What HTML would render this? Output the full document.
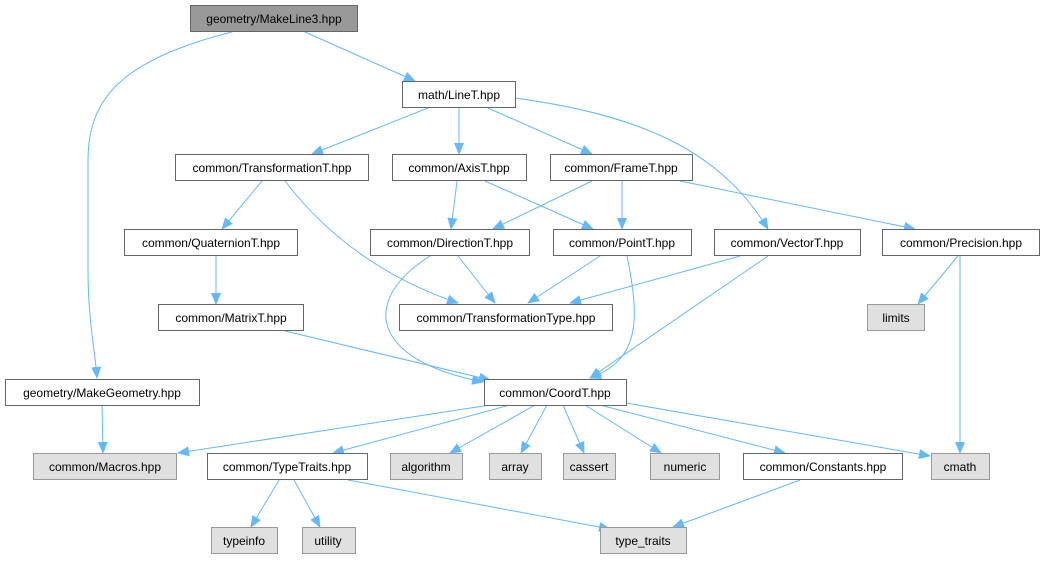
<!DOCTYPE html>
<html><head><meta charset="utf-8"><style>
body{margin:0;background:#fff}
text{font-family:"Liberation Sans",sans-serif;font-size:12px;fill:#000;text-anchor:middle}
.w{fill:#fff;stroke:#666}
.g{fill:#e0e0e0;stroke:#999}
.e{fill:none;stroke:#63b8ff;stroke-width:1}
</style></head><body>
<svg width="1043" height="560" xmlns="http://www.w3.org/2000/svg">
<defs><marker id="a" markerWidth="12" markerHeight="10" refX="11" refY="5" orient="auto" markerUnits="userSpaceOnUse"><path d="M0,0 L12,5 L0,10 z" fill="#63b8ff"/></marker></defs>
<g class="e" marker-end="url(#a)">
<path d="M232,32 C120,60 88,100 88,160 L88,270 C88,320 95,350 97,378" marker-end="url(#a)"/>
<path d="M305,32 L415,81" marker-end="url(#a)"/>
<path d="M428,108 L312,154" marker-end="url(#a)"/>
<path d="M459,108 L459,154" marker-end="url(#a)"/>
<path d="M488,108 L592,154" marker-end="url(#a)"/>
<path d="M515,98 C640,115 720,150 768,229" marker-end="url(#a)"/>
<path d="M262,181 L222,229" marker-end="url(#a)"/>
<path d="M285,181 C330,240 390,280 458,303" marker-end="url(#a)"/>
<path d="M457,181 L451,229" marker-end="url(#a)"/>
<path d="M485,181 L593,229" marker-end="url(#a)"/>
<path d="M592,181 L493,229" marker-end="url(#a)"/>
<path d="M622,181 L622,229" marker-end="url(#a)"/>
<path d="M680,181 L915,229" marker-end="url(#a)"/>
<path d="M216,256 L216,304" marker-end="url(#a)"/>
<path d="M458,256 L495,303" marker-end="url(#a)"/>
<path d="M430,256 C360,300 370,360 483,382" marker-end="url(#a)"/>
<path d="M600,256 L528,303" marker-end="url(#a)"/>
<path d="M627,256 C640,320 640,360 590,378" marker-end="url(#a)"/>
<path d="M740,256 L570,303" marker-end="url(#a)"/>
<path d="M768,256 L590,378" marker-end="url(#a)"/>
<path d="M958,256 L918,304" marker-end="url(#a)"/>
<path d="M960,256 L960,453" marker-end="url(#a)"/>
<path d="M285,331 L490,380" marker-end="url(#a)"/>
<path d="M102,405 L103,453" marker-end="url(#a)"/>
<path d="M490,405 L178,453" marker-end="url(#a)"/>
<path d="M510,405 L333,453" marker-end="url(#a)"/>
<path d="M535,405 L450,453" marker-end="url(#a)"/>
<path d="M547,405 L521,453" marker-end="url(#a)"/>
<path d="M563,405 L584,453" marker-end="url(#a)"/>
<path d="M585,405 L661,453" marker-end="url(#a)"/>
<path d="M600,405 L785,453" marker-end="url(#a)"/>
<path d="M626,403 L930,456" marker-end="url(#a)"/>
<path d="M279,480 L251,527" marker-end="url(#a)"/>
<path d="M294,480 L320,527" marker-end="url(#a)"/>
<path d="M348,480 L610,529" marker-end="url(#a)"/>
<path d="M800,480 L673,527" marker-end="url(#a)"/>
</g>
<rect x="190.5" y="5.5" width="167" height="26" fill="#999" stroke="#666"/><text x="274" y="23">geometry/MakeLine3.hpp</text>
<rect class="w" x="402.5" y="81.5" width="113" height="26"/><text x="459" y="99">math/LineT.hpp</text>
<rect class="w" x="175.5" y="154.5" width="193" height="26"/><text x="272" y="172">common/TransformationT.hpp</text>
<rect class="w" x="392.5" y="154.5" width="134" height="26"/><text x="459" y="172">common/AxisT.hpp</text>
<rect class="w" x="550.5" y="154.5" width="142" height="26"/><text x="621" y="172">common/FrameT.hpp</text>
<rect class="w" x="124.5" y="229.5" width="173" height="26"/><text x="211" y="247">common/QuaternionT.hpp</text>
<rect class="w" x="370.5" y="229.5" width="159" height="26"/><text x="450" y="247">common/DirectionT.hpp</text>
<rect class="w" x="553.5" y="229.5" width="138" height="26"/><text x="622" y="247">common/PointT.hpp</text>
<rect class="w" x="714.5" y="229.5" width="146" height="26"/><text x="787" y="247">common/VectorT.hpp</text>
<rect class="w" x="882.5" y="229.5" width="157" height="26"/><text x="961" y="247">common/Precision.hpp</text>
<rect class="w" x="158.5" y="304.5" width="145" height="26"/><text x="231" y="322">common/MatrixT.hpp</text>
<rect class="w" x="399.5" y="304.5" width="213" height="26"/><text x="506" y="322">common/TransformationType.hpp</text>
<rect class="g" x="867.5" y="304.5" width="57" height="26"/><text x="896" y="322">limits</text>
<rect class="w" x="5.5" y="379.5" width="194" height="26"/><text x="102" y="397">geometry/MakeGeometry.hpp</text>
<rect class="w" x="484.5" y="379.5" width="142" height="26"/><text x="555" y="397">common/CoordT.hpp</text>
<rect class="g" x="33.5" y="453.5" width="143" height="26"/><text x="105" y="471">common/Macros.hpp</text>
<rect class="w" x="207.5" y="453.5" width="160" height="26"/><text x="287" y="471">common/TypeTraits.hpp</text>
<rect class="g" x="390.5" y="453.5" width="72" height="26"/><text x="426" y="471">algorithm</text>
<rect class="g" x="489.5" y="453.5" width="52" height="26"/><text x="515" y="471">array</text>
<rect class="g" x="563.5" y="453.5" width="52" height="26"/><text x="589" y="471">cassert</text>
<rect class="g" x="650.5" y="453.5" width="69" height="26"/><text x="685" y="471">numeric</text>
<rect class="w" x="743.5" y="453.5" width="159" height="26"/><text x="823" y="471">common/Constants.hpp</text>
<rect class="g" x="931.5" y="453.5" width="58" height="26"/><text x="960" y="471">cmath</text>
<rect class="g" x="211.5" y="527.5" width="66" height="26"/><text x="244" y="545">typeinfo</text>
<rect class="g" x="302.5" y="527.5" width="53" height="26"/><text x="328" y="545">utility</text>
<rect class="g" x="600.5" y="527.5" width="86" height="26"/><text x="643" y="545">type_traits</text>
</svg>
</body></html>
